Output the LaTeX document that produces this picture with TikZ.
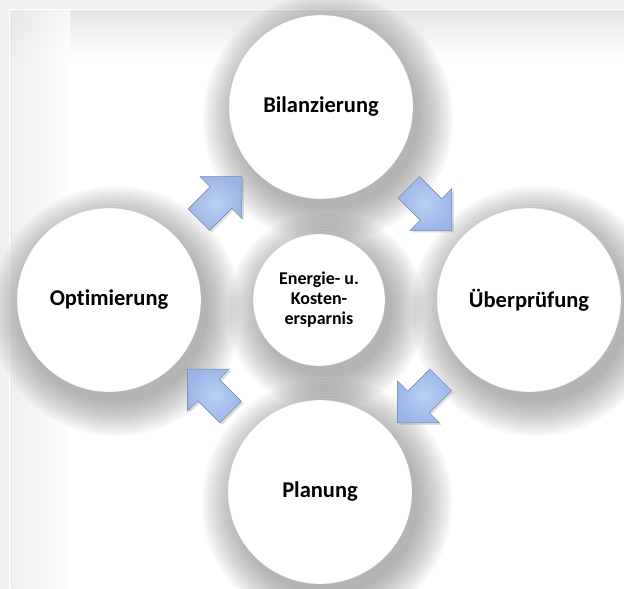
\documentclass[tikz,border=0pt]{standalone}
\usepackage{fontspec}
\setmainfont[Ligatures=NoCommon]{Carlito}
\usetikzlibrary{shapes.arrows,shadows,calc}

\definecolor{arrowblue}{RGB}{155,182,230}
\definecolor{arrowlight}{RGB}{188,208,244}
\definecolor{arrowedge}{RGB}{108,132,175}
\definecolor{halo}{RGB}{105,105,105}

\pgfdeclarelayer{back}
\pgfdeclarelayer{halos}
\pgfsetlayers{back,halos,main}

% white ball with a faint grey rim
\pgfdeclareradialshading{pearl}{\pgfpoint{0bp}{0bp}}{color(0bp)=(white); color(34bp)=(white); color(47bp)=(black!5); color(50bp)=(black!18)}

\tikzstyle{phase}=[circle,draw=black!25,very thin,shading=pearl,minimum size=184pt,inner sep=0pt,align=center,font=\bfseries\fontsize{22.5}{26}\selectfont]
\tikzstyle{goal}=[phase,minimum size=132pt,font=\bfseries\fontsize{18}{20}\selectfont]
\tikzstyle{cyclearrow}=[single arrow,draw=arrowedge,thin,shading=radial,inner color=arrowlight,outer color=arrowblue,
  minimum height=61pt,minimum width=59pt,single arrow head extend=14.5pt,single arrow tip angle=90,
  inner xsep=0pt,inner ysep=15pt,drop shadow={opacity=0.25,shadow xshift=2pt,shadow yshift=-2pt}]

\begin{document}
\begin{tikzpicture}[x=1pt,y=1pt]
   \useasboundingbox (0,0) rectangle (624,589);

    % the four phases and the goal in the middle
    \foreach \pos/ \name / \label in {{(321,482)/bil/Bilanzierung}, {(529,289)/ueb/Überprüfung},
                                      {(320,97)/plan/Planung}, {(109,289)/opt/Optimierung}}
        \node[phase] (\name) at \pos {\label};
    \node[goal] (mid) at (319,289) {Energie- u.\\Kosten-\\ersparnis};

    % arrows of the cycle, halfway between neighbouring phases
    \foreach \source/ \dest / \angle in {opt/bil/45, bil/ueb/-45, ueb/plan/-135, plan/opt/135}
        \node[cyclearrow,rotate=\angle] (\source-\dest) at ($(\source)!0.5!(\dest)$) {};

    % soft grey shadows under the balls
    \begin{pgfonlayer}{halos}
    \foreach \name/ \r in {bil/92, ueb/92, plan/92, opt/92, mid/66}
        \foreach \k in {1,...,12}
            \fill[halo,opacity=0.05] ($(\name)+(7,-11)$) circle ({\r+36-3*\k});
    \end{pgfonlayer}

    % page and frame
    \begin{pgfonlayer}{back}
    \fill[black!6] (0,0) rectangle (624,589);
    \draw[white,fill=white,line width=1.2pt] (10,-5) rectangle (630,579);
    \shade[top color=black!10,bottom color=white] (10.6,530) rectangle (624,578.4);
    \shade[left color=black!9,right color=white,opacity=0.7] (10.6,0) rectangle (70,578.4);
    \end{pgfonlayer}

\end{tikzpicture}
\end{document}
